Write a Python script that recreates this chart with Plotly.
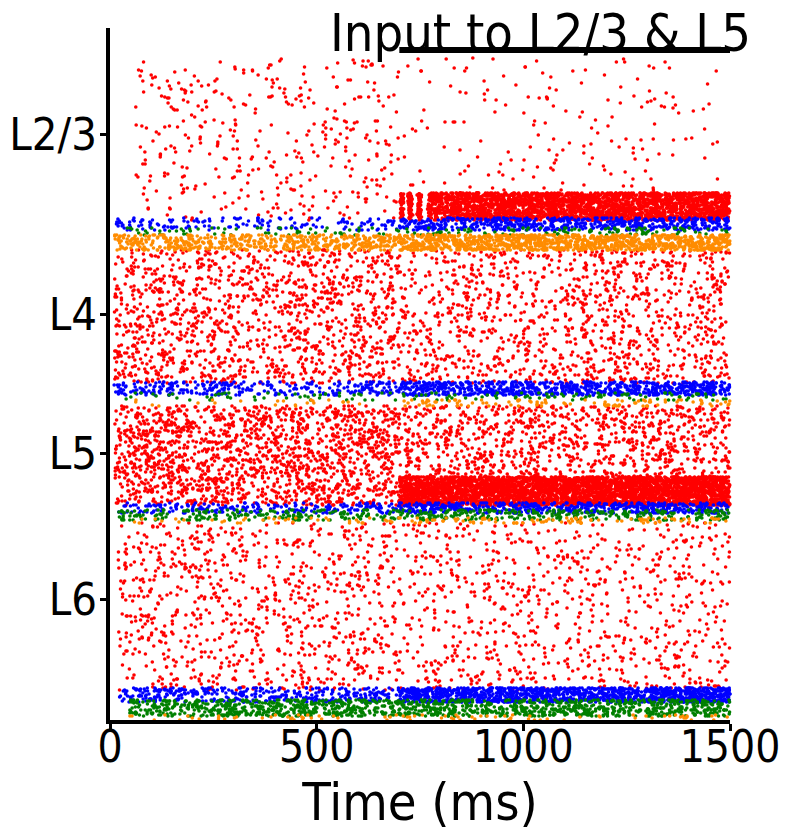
import numpy as np
import plotly.graph_objects as go

# spike raster of a layered cortical column, stimulus to L2/3 and L5 from 700 ms
t_end = 1500
stim_on = 700
stim_window = [700, 1500]

layer_names = ["L2/3", "L4", "L5", "L6"]
layer_tick_ids = [586, 406, 267, 121]

# populations: neuron id range (bottom, top) and spike counts before / after stimulus onset
pop_names = ["L23_E", "L23_PV", "L23_SST", "L23_VIP",
             "L4_E", "L4_PV", "L4_SST", "L4_VIP",
             "L5_E", "L5_PV", "L5_SST", "L5_VIP",
             "L6_E", "L6_PV", "L6_SST", "L6_VIP"]
pop_type = ["E", "PV", "SST", "VIP"] * 4
pop_lo = [500, 490, 485, 470, 337, 325, 320, 314, 215, 207, 200, 197, 30, 18, 4, 0]
pop_hi = [662, 502, 492, 485, 470, 338, 327, 320, 314, 217, 210, 202, 197, 32, 20, 5]
pop_t0 = [60, 10, 40, 10, 10, 10, 30, 30, 10, 20, 20, 40, 20, 20, 45, 30]
spikes_pre = [380, 150, 60, 520, 1250, 280, 50, 22, 1600, 220, 190, 40, 850, 360, 550, 35]
spikes_post = [200, 600, 110, 1150, 1150, 800, 80, 95, 1250, 550, 280, 95, 800, 1350, 680, 50]

# stimulated subgroups (driven hard after onset)
stim_pops = ["L23_E", "L5_E"]
stim_lo = [500, 215]
stim_hi = [527, 243]
stim_spikes = [2800, 3600]
stim_volleys = [[706, 726, 748], []]

type_colors = {"E": "#ff0000", "PV": "#0000ff", "SST": "#008000", "VIP": "#ff8c00"}

rng = np.random.default_rng(7)
xs = {k: [] for k in type_colors}
ys = {k: [] for k in type_colors}

for i, name in enumerate(pop_names):
    k = pop_type[i]
    n_ids = pop_hi[i] - pop_lo[i] + 1
    t_pre = rng.uniform(pop_t0[i], stim_on, spikes_pre[i])
    t_post = rng.uniform(stim_on, t_end, spikes_post[i])
    t = np.concatenate([t_pre, t_post])
    y = pop_lo[i] + rng.integers(0, n_ids, t.size)
    xs[k].append(t)
    ys[k].append(y)

for j, name in enumerate(stim_pops):
    n_ids = stim_hi[j] - stim_lo[j] + 1
    t_start = stim_on
    parts = []
    for v in stim_volleys[j]:
        parts.append(rng.normal(v, 2.5, 70))
    if stim_volleys[j]:
        t_start = stim_volleys[j][-1] + 20
    parts.append(rng.uniform(t_start, t_end, stim_spikes[j]))
    t = np.clip(np.concatenate(parts), stim_on, t_end)
    y = stim_lo[j] + rng.integers(0, n_ids, t.size)
    xs["E"].append(t)
    ys["E"].append(y)

fig = go.Figure()
for k, col in type_colors.items():
    fig.add_trace(go.Scatter(
        x=np.concatenate(xs[k]), y=np.concatenate(ys[k]),
        mode="markers", marker=dict(color=col, size=3.6, line=dict(width=0)),
        name=k, showlegend=False, hoverinfo="skip", cliponaxis=False))

# stimulus bar
fig.add_trace(go.Scatter(x=stim_window, y=[670, 670], mode="lines",
                         line=dict(color="black", width=6), cliponaxis=False,
                         showlegend=False, hoverinfo="skip"))

font = "DejaVu Sans Condensed, DejaVu Sans, sans-serif"
fig.add_annotation(text="Input to L2/3 & L5", xref="paper", yref="paper",
                   x=1.037, y=0.993, xanchor="right", yanchor="middle",
                   showarrow=False, font=dict(family=font, size=52, color="black"))

# page body has an 8px margin, so the figure is 16px smaller than the window
fig.update_layout(
    width=784, height=826,
    margin=dict(l=102, r=62, t=20, b=114),
    plot_bgcolor="white", paper_bgcolor="white",
    font=dict(family=font, color="black"),
    xaxis=dict(range=[0, t_end], tickvals=[0, 500, 1000, 1500],
               showgrid=False, zeroline=False, showline=True, automargin=False,
               linecolor="black", linewidth=4, ticks="outside",
               ticklen=7, tickwidth=3, tickcolor="black",
               tickfont=dict(size=44), ticklabelstandoff=-22,
               title=dict(text="Time (ms)", font=dict(size=52), standoff=0)),
    yaxis=dict(range=[0, 692], tickvals=layer_tick_ids, ticktext=layer_names,
               showgrid=False, zeroline=False, showline=True, automargin=False,
               linecolor="black", linewidth=4, ticks="outside",
               ticklen=6, tickwidth=3, tickcolor="black",
               tickfont=dict(size=45), ticklabelstandoff=-6),
)

fig.write_html("out.html")
